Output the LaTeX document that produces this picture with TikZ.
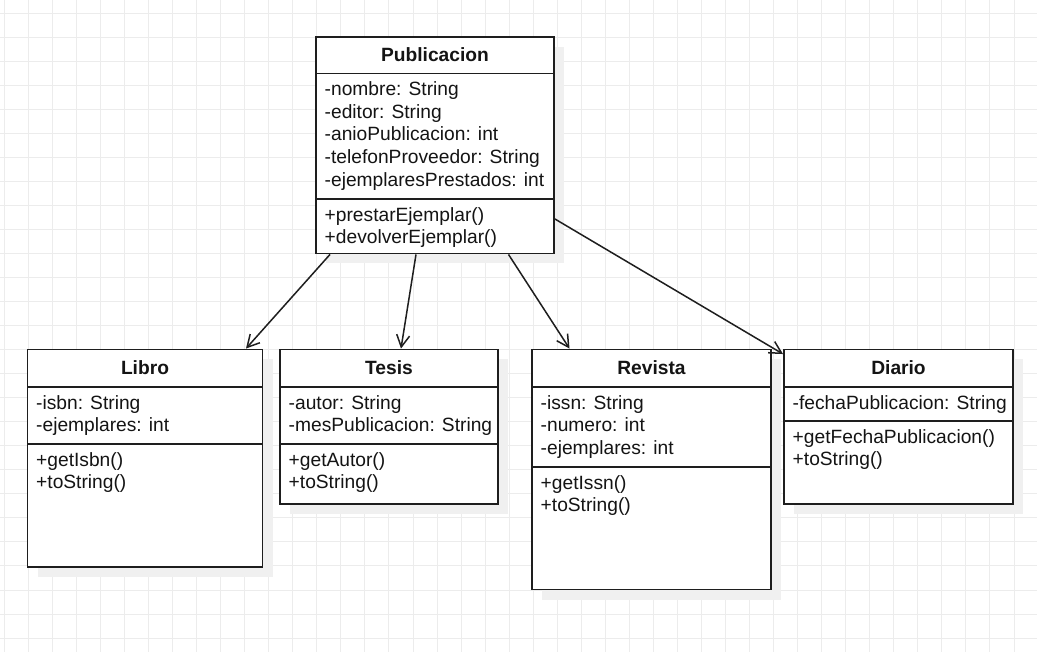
\documentclass[tikz,border=0pt]{standalone}
\usepackage{fontspec}
\setmainfont{Liberation Sans}
\usetikzlibrary{arrows.meta,fit}

\definecolor{gridc}{RGB}{236,236,236}
\definecolor{shadowc}{RGB}{240,240,240}
\definecolor{boxc}{RGB}{30,30,30}
\definecolor{txtc}{RGB}{20,20,20}

% strut that fixes the height of the first line of a compartment
\newcommand{\fl}{\rule{0pt}{15pt}}

\tikzset{
  gridline/.style={draw=gridc, line width=0.9pt},
  shade/.style={fill=shadowc},
  classbox/.style={draw=boxc, line width=1.9pt, fill=white, inner sep=0pt, rectangle},
  sepline/.style={draw=boxc, line width=1.9pt},
  classtitle/.style={anchor=base, inner sep=0pt, text=txtc,
    font=\bfseries\fontsize{19.2}{22.6}\selectfont},
  members/.style={anchor=north west, align=left, inner sep=0pt, text=txtc,
    font=\fontsize{19.2}{22.6}\selectfont},
  inherit/.style={draw=boxc, line width=1.5pt,
    -{Straight Barb[length=12pt,width=13pt,line width=1.5pt]}}
}

\begin{document}
\begin{tikzpicture}[x=1pt,y=-1pt]
  \useasboundingbox (0,0) rectangle (1037,652);
  \fill[white] (0,0) rectangle (1037,652);

  % background grid
  \foreach \i in {0,...,43} {
    \draw[gridline] ({4.3+24.04*\i},0) -- ({4.3+24.04*\i},652);
  }
  \foreach \j in {0,...,26} {
    \draw[gridline] (0,{13+24.04*\j}) -- (1037,{13+24.04*\j});
  }

  % shadows
  \fill[shade] (326,47) rectangle (564,263.5);
  \fill[shade] (37.5,359.5) rectangle (272.5,577);
  \fill[shade] (290,359.5) rectangle (508,514);
  \fill[shade] (542,359.5) rectangle (781,599.5);
  \fill[shade] (794,359.5) rectangle (1023,514);

  % Publicacion
  \node[classbox, fit={(316,37)(554,253.5)}] (pub) {};
  \draw[sepline] (316,73.5) -- (554,73.5);
  \draw[sepline] (316,199) -- (554,199);
  \node[classtitle] (pubT) at (435,62) {Publicacion};
  \node[members] (pubA) at (324.5,80.5) {\fl-nombre: String\\-editor: String\\-anioPublicacion: int\\-telefonProveedor: String\\-ejemplaresPrestados: int};
  \node[members] (pubM) at (324.5,206) {\fl+prestarEjemplar()\\+devolverEjemplar()};

  % Libro
  \node[classbox, fit={(27.5,349.5)(262.5,567)}] (libro) {};
  \draw[sepline] (27.5,387) -- (262.5,387);
  \draw[sepline] (27.5,444) -- (262.5,444);
  \node[classtitle] (libroT) at (145,375) {Libro};
  \node[members] (libroA) at (36,394) {\fl-isbn: String\\-ejemplares: int};
  \node[members] (libroM) at (36,451) {\fl+getIsbn()\\+toString()};

  % Tesis
  \node[classbox, fit={(280,349.5)(498,504)}] (tesis) {};
  \draw[sepline] (280,387) -- (498,387);
  \draw[sepline] (280,444) -- (498,444);
  \node[classtitle] (tesisT) at (389,375) {Tesis};
  \node[members] (tesisA) at (288.5,394) {\fl-autor: String\\-mesPublicacion: String};
  \node[members] (tesisM) at (288.5,451) {\fl+getAutor()\\+toString()};

  % Revista
  \node[classbox, fit={(532,349.5)(771,589.5)}] (revista) {};
  \draw[sepline] (532,387) -- (771,387);
  \draw[sepline] (532,467) -- (771,467);
  \node[classtitle] (revistaT) at (651.5,375) {Revista};
  \node[members] (revistaA) at (540.5,394) {\fl-issn: String\\-numero: int\\-ejemplares: int};
  \node[members] (revistaM) at (540.5,474) {\fl+getIssn()\\+toString()};

  % Diario
  \node[classbox, fit={(784,349.5)(1013,504)}] (diario) {};
  \draw[sepline] (784,387) -- (1013,387);
  \draw[sepline] (784,421) -- (1013,421);
  \node[classtitle] (diarioT) at (898.5,375) {Diario};
  \node[members] (diarioA) at (792.5,394) {\fl-fechaPublicacion: String};
  \node[members] (diarioM) at (792.5,428) {\fl+getFechaPublicacion()\\+toString()};

  % generalisations
  \draw[inherit] ([xshift=-105pt]pub.south) -- ([xshift=101pt]libro.north);
  \draw[inherit] ([xshift=-19pt]pub.south) -- ([xshift=12pt]tesis.north);
  \draw[inherit] ([xshift=73.5pt]pub.south) -- ([xshift=-82pt]revista.north);
  \draw[inherit] ([yshift=-73.75pt]pub.east) -- ([yshift=-5.5pt]diario.north west);
\end{tikzpicture}
\end{document}
